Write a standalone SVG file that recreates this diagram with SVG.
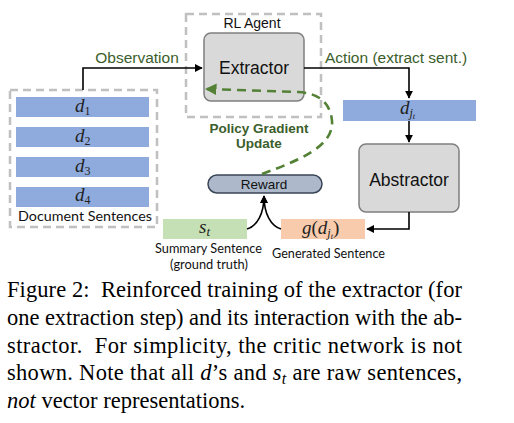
<svg xmlns="http://www.w3.org/2000/svg" width="514" height="423" viewBox="0 0 514 423">
<style>
.sans{font-family:"Liberation Sans",Arial,sans-serif;}
.lbl{font-family:"Lato","Noto Sans",sans-serif;font-size:13px;fill:#111;}
.math{font-family:"Liberation Serif","Times New Roman",serif;font-style:italic;font-size:19px;fill:#222;}
.sub{font-style:normal;font-size:12px;}
.cap{font-family:"Liberation Serif","Times New Roman",serif;font-size:22.5px;fill:#000;}
.green{fill:#3b5e2b;}
.dash{fill:none;stroke:#c0c0c0;stroke-width:2.5;stroke-dasharray:8,5;}
.bar{fill:#8faadc;}
.box{fill:#d9d9d9;stroke:#7f7f7f;stroke-width:1.5;}
.conn{fill:none;stroke:#000;stroke-width:1.6;}
</style>
<defs>
<marker id="ah" viewBox="0 0 10 10" refX="9" refY="5" markerWidth="5" markerHeight="5" orient="auto" markerUnits="strokeWidth">
<path d="M0,0 L10,5 L0,10 z" fill="#000"/>
</marker>
<marker id="ahg" viewBox="0 0 10 10" refX="9" refY="5" markerWidth="4.5" markerHeight="4.5" orient="auto" markerUnits="strokeWidth">
<path d="M0,0 L10,5 L0,10 z" fill="#538135"/>
</marker>
</defs>
<rect width="514" height="423" fill="#fff"/>

<g id="documents">
<rect class="dash" x="10" y="90" width="147" height="137"/>
<rect class="bar" x="16" y="97" width="133" height="20"/>
<rect class="bar" x="16" y="127" width="133" height="20"/>
<rect class="bar" x="16" y="157" width="133" height="20"/>
<rect class="bar" x="16" y="187" width="133" height="20"/>
<text class="math" x="75" y="112">d<tspan class="sub" dy="2.5">1</tspan></text>
<text class="math" x="75" y="142">d<tspan class="sub" dy="2.5">2</tspan></text>
<text class="math" x="75" y="172">d<tspan class="sub" dy="2.5">3</tspan></text>
<text class="math" x="75" y="201">d<tspan class="sub" dy="2.5">4</tspan></text>
<text class="lbl" x="18" y="221" textLength="134" lengthAdjust="spacingAndGlyphs">Document Sentences</text>
</g>

<g id="rl-agent">
<rect class="dash" x="186" y="14" width="135" height="103"/>
<text class="sans" x="252" y="28" font-size="14" text-anchor="middle" fill="#111">RL Agent</text>
</g>

<g id="extractor">
<rect class="box" x="204" y="33" width="100" height="68" rx="7"/>
<text class="sans" x="254" y="74" font-size="17.5" text-anchor="middle" fill="#111">Extractor</text>
</g>

<g id="selected">
<rect class="bar" x="343" y="100" width="133" height="21"/>
<text class="math" x="400" y="114">d<tspan font-size="12" dy="3">j</tspan><tspan font-size="8.5" dy="1.5">t</tspan></text>
</g>

<g id="abstractor">
<rect class="box" x="359" y="144" width="100" height="68" rx="7"/>
<text class="sans" x="409" y="186" font-size="17.5" text-anchor="middle" fill="#111">Abstractor</text>
</g>

<g id="reward">
<rect x="208" y="175" width="114" height="18" rx="9" fill="#adb9ca" stroke="#3a4556" stroke-width="1.5"/>
<text class="sans" x="264" y="189" font-size="13.5" text-anchor="middle" fill="#111">Reward</text>
</g>

<g id="summary">
<rect x="163" y="219" width="84" height="20" fill="#c5e0b4"/>
<text class="math" x="199" y="233">s<tspan font-size="13" dy="3">t</tspan></text>
<text class="lbl" x="155" y="253" textLength="107" lengthAdjust="spacingAndGlyphs">Summary Sentence</text>
<text class="lbl" x="170" y="269" textLength="78" lengthAdjust="spacingAndGlyphs">(ground truth)</text>
</g>

<g id="generated">
<rect x="281" y="219" width="84" height="20" fill="#f8cbad"/>
<text class="math" x="302" y="234">g<tspan font-style="normal">(</tspan>d<tspan font-size="12" dy="3">j</tspan><tspan font-size="8.5" dy="1.5">t</tspan><tspan font-style="normal" font-size="19" dy="-4.5">)</tspan></text>
<text class="lbl" x="272" y="258" textLength="113" lengthAdjust="spacingAndGlyphs">Generated Sentence</text>
</g>

<g id="policy-label">
<text class="sans green" x="259" y="133" font-size="13.5" font-weight="bold" text-anchor="middle">Policy Gradient</text>
<text class="sans green" x="259" y="148" font-size="13.5" font-weight="bold" text-anchor="middle">Update</text>
</g>

<g id="connectors">
<path class="conn" d="M83,90 V68 H202" marker-end="url(#ah)"/>
<text class="sans green" x="137" y="63" font-size="15.5" text-anchor="middle">Observation</text>
<path class="conn" d="M304,68 H409 V98" marker-end="url(#ah)"/>
<text class="sans green" x="325" y="63" font-size="15.5">Action (extract sent.)</text>
<path class="conn" d="M409,121 V142" marker-end="url(#ah)"/>
<path class="conn" d="M409,212 V229 H367" marker-end="url(#ah)"/>
<path class="conn" d="M247,229 C257,226 264,214 264,196" marker-end="url(#ah)"/>
<path class="conn" d="M281,229 C271,226 264,214 264,196" marker-end="url(#ah)"/>
<path d="M262,174 C300,160 334,146 332,121 C330,100 316,93 298,92 L206,89" fill="none" stroke="#538135" stroke-width="2.6" stroke-dasharray="9,6" marker-end="url(#ahg)"/>
</g>

<g id="caption">
<text class="cap" x="7" y="297" textLength="455" lengthAdjust="spacing">Figure 2:&#160; Reinforced training of the extractor (for</text>
<text class="cap" x="7" y="325" textLength="455" lengthAdjust="spacing">one extraction step) and its interaction with the ab-</text>
<text class="cap" x="7" y="353" textLength="455" lengthAdjust="spacing">stractor.&#160; For simplicity, the critic network is not</text>
<text class="cap" x="7" y="380" textLength="455" lengthAdjust="spacing">shown. Note that all <tspan font-style="italic">d</tspan>’s and <tspan font-style="italic">s</tspan><tspan font-style="italic" font-size="16" dy="4">t</tspan><tspan dy="-4"> are raw sentences,</tspan></text>
<text class="cap" x="7" y="408"><tspan font-style="italic">not</tspan> vector representations.</text>
</g>
</svg>
